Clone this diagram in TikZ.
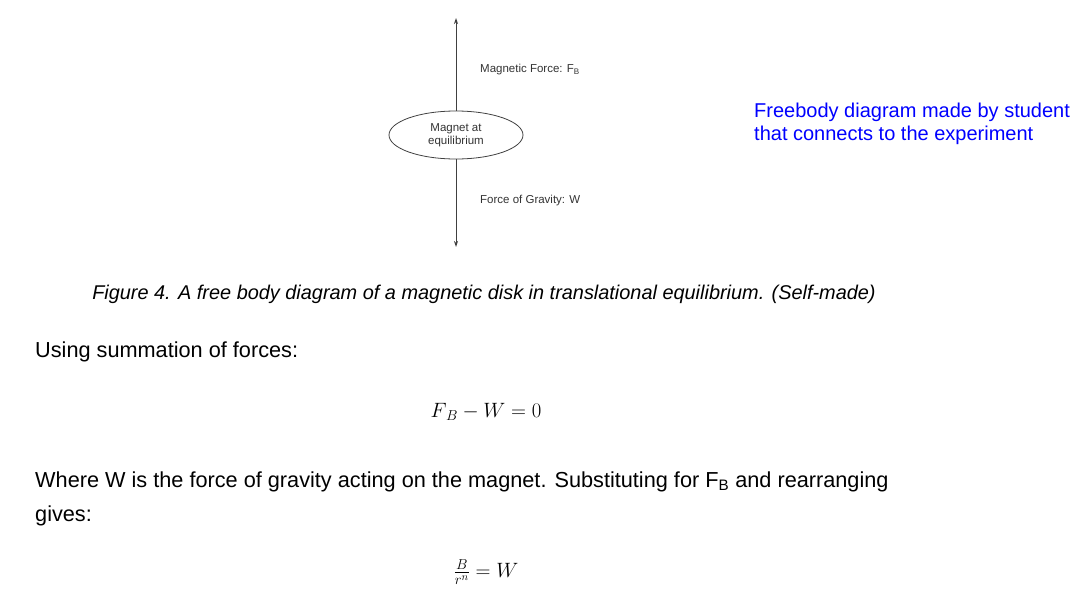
\documentclass[tikz,border=0pt]{standalone}
\usepackage{fontspec}
\setmainfont{Liberation Sans}
\usetikzlibrary{shapes.geometric,arrows.meta}
\begin{document}
\begin{tikzpicture}[x=1pt,y=-1pt,
  lbl/.style={anchor=west,inner sep=0pt,font=\fontsize{11.5}{13}\selectfont,text=black!80},
  body/.style={anchor=west,inner sep=0pt,font=\fontsize{21.7}{26}\selectfont},
  frc/.style={-{Stealth[length=6pt,width=4pt]},line width=1pt,draw=black!75}]
\useasboundingbox (0,0) rectangle (1080,597);
\node[ellipse,draw=black!75,line width=0.8pt,minimum width=134pt,minimum height=48pt,inner sep=0pt,align=center,font=\fontsize{11.5}{12.5}\selectfont,text=black!80] (m) at (456,135) {Magnet at\\equilibrium};
\coordinate (top) at (456,18);
\coordinate (bot) at (456,247);
\draw[frc] (m.north) -- (top);
\draw[frc] (m.south) -- (bot);
\node[lbl] (fb) at (480,70) {Magnetic Force: F\textsubscript{B}};
\node[lbl] (w) at (480,201) {Force of Gravity: W};
\node[anchor=west,inner sep=0pt,align=left,text=blue,font=\fontsize{20}{23}\selectfont] (note) at (754,124) {Freebody diagram made by student\\that connects to the experiment};
\node[inner sep=0pt,font=\fontsize{19.9}{23}\selectfont\itshape] (cap) at (484,294) {Figure 4. A free body diagram of a magnetic disk in translational equilibrium. (Self-made)};
\node[body] (t1) at (35,352) {Using summation of forces:};
\node[inner sep=0pt,font=\fontsize{22}{26}\selectfont] (e1) at (486,412) {$F_{\,B} - W = 0$};
\node[body] (t2) at (35,482) {Where W is the force of gravity acting on the magnet. Substituting for F\textsubscript{B} and rearranging};
\node[body] (t3) at (35,516) {gives:};
\node[inner sep=0pt,font=\fontsize{22}{26}\selectfont] (e2) at (486,572) {$\frac{B}{r^n} = W$};
\end{tikzpicture}
\end{document}
